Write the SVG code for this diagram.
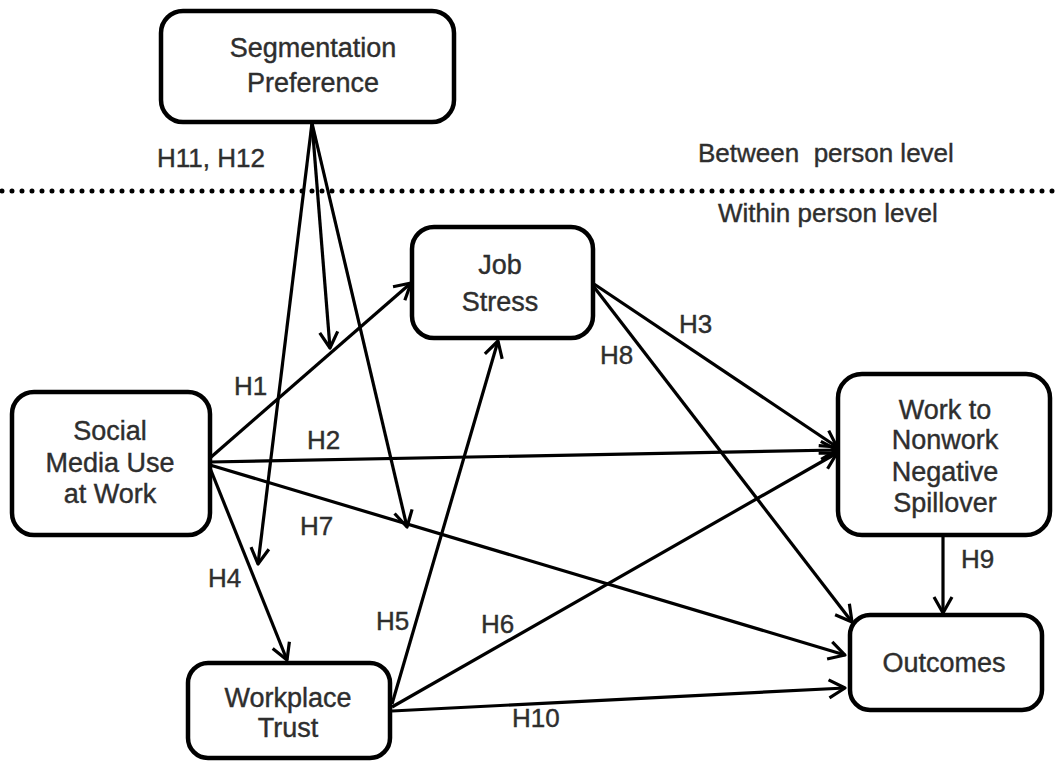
<svg xmlns="http://www.w3.org/2000/svg" width="1058" height="761" viewBox="0 0 1058 761">
  <style>
    .box { fill: #fff; stroke: #000; stroke-width: 4.5; }
    .lbl { font-family: "Liberation Sans", Arial, sans-serif; font-size: 26px; fill: #2e2e2e; stroke: #2e2e2e; stroke-width: 0.4; white-space: pre; }
    .node { font-family: "Liberation Sans", Arial, sans-serif; font-size: 27px; fill: #2e2e2e; stroke: #2e2e2e; stroke-width: 0.4; text-anchor: middle; }
    .edge { fill: none; stroke: #000; stroke-width: 3.2; marker-end: url(#arr); }
  </style>
  <defs>
    <marker id="arr" viewBox="0 0 24 24" refX="21" refY="12" markerWidth="24" markerHeight="24" markerUnits="userSpaceOnUse" orient="auto">
      <path d="M5,3 L21,12 L5,21" fill="none" stroke="#000" stroke-width="3.2" stroke-linejoin="round"/>
    </marker>
  </defs>
  <rect width="1058" height="761" fill="#fff"/>

  <!-- level divider -->
  <line x1="2" y1="191" x2="1058" y2="191" stroke="#000" stroke-width="5" stroke-linecap="round" stroke-dasharray="0 10"/>
  <text class="lbl" x="698" y="162" font-size="27" xml:space="preserve">Between  person level</text>
  <text class="lbl" x="718" y="222" font-size="27">Within person level</text>

  <!-- connectors -->
  <g id="connectors">
    <!-- moderation paths -->
    <line class="edge" x1="312" y1="123" x2="258" y2="564"/>
    <line class="edge" x1="312" y1="123" x2="330" y2="348"/>
    <line class="edge" x1="312" y1="123" x2="407" y2="527"/>
    <!-- direct paths -->
    <line class="edge" x1="210" y1="458" x2="411" y2="283"/>
    <line class="edge" x1="210" y1="462" x2="837" y2="450"/>
    <line class="edge" x1="210" y1="465" x2="845" y2="655"/>
    <line class="edge" x1="210" y1="468" x2="287" y2="660"/>
    <line class="edge" x1="392" y1="704" x2="498" y2="341"/>
    <line class="edge" x1="392" y1="707" x2="837" y2="453"/>
    <line class="edge" x1="392" y1="711" x2="845" y2="688"/>
    <line class="edge" x1="594" y1="287" x2="852" y2="622"/>
    <line class="edge" x1="594" y1="284" x2="837" y2="447"/>
    <line class="edge" x1="943" y1="535" x2="943" y2="613"/>
  </g>

  <!-- hypothesis labels -->
  <g id="labels">
    <text class="lbl" x="157" y="167">H11, H12</text>
    <text class="lbl" x="234" y="395">H1</text>
    <text class="lbl" x="307" y="449">H2</text>
    <text class="lbl" x="300" y="535">H7</text>
    <text class="lbl" x="208" y="587">H4</text>
    <text class="lbl" x="376" y="630">H5</text>
    <text class="lbl" x="481" y="633">H6</text>
    <text class="lbl" x="512" y="727">H10</text>
    <text class="lbl" x="679" y="333">H3</text>
    <text class="lbl" x="600" y="364">H8</text>
    <text class="lbl" x="961" y="568">H9</text>
  </g>

  <g id="segmentation">
    <rect class="box" x="161" y="11" width="293" height="111" rx="22"/>
    <text class="node" x="313" y="57">Segmentation</text>
    <text class="node" x="313" y="92">Preference</text>
  </g>

  <g id="social-media">
    <rect class="box" x="12" y="392" width="198" height="143" rx="22"/>
    <text class="node" x="110" y="440">Social</text>
    <text class="node" x="110" y="472">Media Use</text>
    <text class="node" x="110" y="503">at Work</text>
  </g>

  <g id="job-stress">
    <rect class="box" x="412" y="227" width="181" height="111" rx="22"/>
    <text class="node" x="500" y="274">Job</text>
    <text class="node" x="500" y="311">Stress</text>
  </g>

  <g id="spillover">
    <rect class="box" x="838" y="374" width="212" height="161" rx="24"/>
    <text class="node" x="945" y="419">Work to</text>
    <text class="node" x="945" y="449">Nonwork</text>
    <text class="node" x="945" y="481">Negative</text>
    <text class="node" x="945" y="512">Spillover</text>
  </g>

  <g id="outcomes">
    <rect class="box" x="850" y="615" width="192" height="95" rx="20"/>
    <text class="node" x="944" y="672">Outcomes</text>
  </g>

  <g id="workplace-trust">
    <rect class="box" x="188" y="663" width="202" height="95" rx="20"/>
    <text class="node" x="288" y="707">Workplace</text>
    <text class="node" x="288" y="737">Trust</text>
  </g>
</svg>
